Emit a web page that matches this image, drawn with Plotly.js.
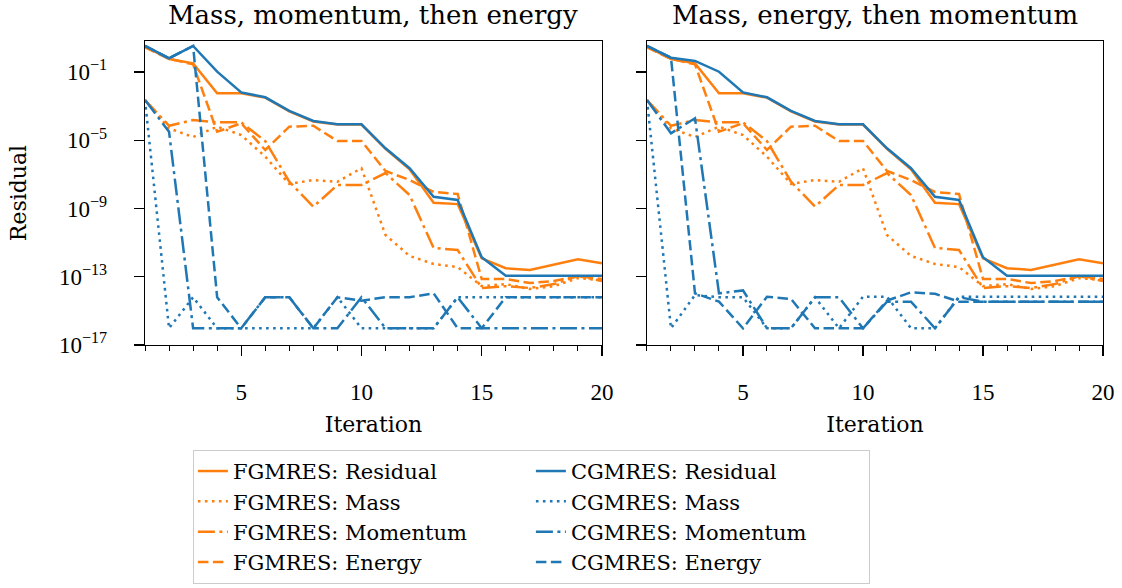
<!DOCTYPE html>
<html>
<head>
<meta charset="utf-8">
<script src="https://cdn.plot.ly/plotly-3.0.1.min.js"></script>
<style>html,body{margin:0;padding:0;background:#fff;}#chart{width:1122px;height:588px;}</style>
</head>
<body>
<div id="chart"></div>
<script>
// Iterations
const iterations = [1,2,3,4,5,6,7,8,9,10,11,12,13,14,15,16,17,18,19,20];

// log10 of residual values
// FGMRES (same in both panels)
const fgResidual = [0.5,-0.24,-0.49,-2.25,-2.25,-2.5,-3.3,-3.9,-4.08,-4.08,-5.5,-6.7,-8.66,-8.74,-11.92,-12.5,-12.6,-12.31,-11.98,-12.21];
const fgMass     = [-2.64,-4.3,-4.81,-4.2,-4.69,-5.96,-7.56,-7.33,-7.43,-6.64,-10.55,-11.78,-12.25,-12.43,-13.55,-13.43,-13.72,-13.55,-13.08,-13.2];
const fgMomentum = [-2.64,-4.15,-3.81,-3.95,-3.95,-5.05,-7.43,-8.89,-7.62,-7.62,-6.92,-8.21,-11.31,-11.43,-13.66,-13.55,-13.66,-13.43,-12.96,-13.25];
const fgEnergy   = [0.45,-0.22,-0.55,-4.5,-4.0,-5.57,-4.2,-4.15,-5.04,-5.04,-6.8,-7.33,-8.03,-8.15,-13.13,-13.13,-13.37,-13.25,-12.96,-13.13];

// CGMRES, left panel (mass, momentum, then energy)
const cgResidualA = [0.53,-0.19,0.53,-0.98,-2.19,-2.48,-3.28,-3.87,-4.06,-4.06,-5.47,-6.64,-8.31,-8.5,-11.86,-12.94,-12.94,-12.94,-12.94,-12.94];
const cgMassA     = [-2.64,-16.02,-14.2,-16.02,-16.02,-16.02,-16.02,-16.02,-14.2,-16.02,-16.02,-16.02,-16.02,-14.2,-14.2,-14.2,-14.2,-14.2,-14.2,-14.2];
const cgMomentumA = [-2.64,-4.5,-16.02,-16.02,-16.02,-14.2,-14.2,-16.02,-16.02,-14.2,-16.02,-16.02,-16.02,-14.2,-16.02,-16.02,-16.02,-16.02,-16.02,-16.02];
const cgEnergyA   = [0.53,-0.19,0.53,-14.2,-16.02,-14.2,-14.2,-16.02,-14.2,-14.4,-14.2,-14.2,-13.97,-16.02,-16.02,-14.2,-14.2,-14.2,-14.2,-14.2];

// CGMRES, right panel (mass, energy, then momentum)
const cgResidualB = [0.53,-0.16,-0.35,-0.98,-2.19,-2.48,-3.28,-3.87,-4.06,-4.06,-5.47,-6.64,-8.31,-8.5,-11.86,-12.94,-12.94,-12.94,-12.94,-12.94];
const cgMassB     = [-2.64,-16.02,-14.07,-14.2,-14.2,-16.02,-16.02,-14.2,-16.02,-14.17,-14.17,-16.02,-16.02,-14.17,-14.17,-14.17,-14.17,-14.17,-14.17,-14.17];
const cgMomentumB = [-2.64,-4.59,-3.71,-13.97,-13.8,-16.02,-16.02,-14.2,-14.2,-16.02,-14.46,-14.46,-16.02,-14.2,-14.46,-14.46,-14.46,-14.46,-14.46,-14.46];
const cgEnergyB   = [0.53,-0.16,-13.97,-14.46,-16.02,-14.17,-14.3,-16.02,-16.02,-16.02,-14.4,-13.91,-14.0,-14.46,-14.46,-14.46,-14.46,-14.46,-14.46,-14.46];

const titles = ["Mass, momentum, then energy", "Mass, energy, then momentum"];
const xTickVals = [5,10,15,20];
const yTickVals = [1e-1,1e-5,1e-9,1e-13,1e-17];
const yTickText = ["10<sup>\u22121</sup>","10<sup>\u22125</sup>","10<sup>\u22129</sup>","10<sup>\u221213</sup>","10<sup>\u221217</sup>"];

const ORANGE = '#ff7f0e', BLUE = '#1f77b4';
const DASH = {solid:'solid', dot:'2.6px,4.4px', dashdot:'17px,4.5px,3px,4.5px', dash:'10.5px,4.5px'};
const pw = v => v.map(e => Math.pow(10, e));

const traces = [];
function add(y, color, dash, name, ax, show, rank) {
  traces.push({
    x: iterations, y: pw(y), type: 'scatter', mode: 'lines',
    line: {color: color, width: 2.5, dash: DASH[dash]},
    name: name, legendgroup: name, showlegend: show, legendrank: rank,
    xaxis: ax === 1 ? 'x' : 'x2', yaxis: ax === 1 ? 'y' : 'y2',
    hoverinfo: 'skip'
  });
}
[[1, cgResidualA, cgMassA, cgMomentumA, cgEnergyA], [2, cgResidualB, cgMassB, cgMomentumB, cgEnergyB]].forEach(p => {
  const ax = p[0], show = ax === 1;
  add(fgResidual, ORANGE, 'solid', 'FGMRES: Residual', ax, show, 1);
  add(fgMass, ORANGE, 'dot', 'FGMRES: Mass', ax, show, 3);
  add(fgMomentum, ORANGE, 'dashdot', 'FGMRES: Momentum', ax, show, 5);
  add(fgEnergy, ORANGE, 'dash', 'FGMRES: Energy', ax, show, 7);
  add(p[1], BLUE, 'solid', 'CGMRES: Residual', ax, show, 2);
  add(p[2], BLUE, 'dot', 'CGMRES: Mass', ax, show, 4);
  add(p[3], BLUE, 'dashdot', 'CGMRES: Momentum', ax, show, 6);
  add(p[4], BLUE, 'dash', 'CGMRES: Energy', ax, show, 8);
});

const TEXTFONT = 'DejaVu Serif, serif';
const NUMFONT = 'Liberation Serif, DejaVu Serif, serif';
function xax(domain, anchor) {
  return {
    domain: domain, anchor: anchor, range: [1, 20], tickvals: xTickVals, automargin: false,
    ticks: 'outside', ticklen: 10, tickwidth: 1.3, tickcolor: '#000',
    minor: {dtick: 1, tick0: 0, ticks: 'outside', ticklen: 5, tickwidth: 1, tickcolor: '#000'},
    showgrid: false, zeroline: false, showline: true, linecolor: '#000', linewidth: 1.3, mirror: true,
    tickfont: {family: NUMFONT, size: 23, color: '#000'}, ticklabelstandoff: 16,
    title: {text: 'Iteration', font: {family: TEXTFONT, size: 22, color: '#000'}, standoff: 12}
  };
}
function yax(anchor, labels) {
  return {
    type: 'log', anchor: anchor, domain: [0, 1], range: [-17, 0.82], automargin: false,
    tickvals: yTickVals, ticktext: yTickText, showticklabels: labels,
    ticks: 'outside', ticklen: 10, tickwidth: 1.3, tickcolor: '#000',
    showgrid: false, zeroline: false, showline: true, linecolor: '#000', linewidth: 1.3, mirror: true,
    tickfont: {family: NUMFONT, size: 23, color: '#000'}, ticklabelstandoff: 22,
    title: labels ? {text: 'Residual', font: {family: TEXTFONT, size: 22, color: '#000'}, standoff: 26} : {text: ''}
  };
}

const layout = {
  width: 1122, height: 588,
  margin: {l: 145, r: 19, t: 41, b: 243, autoexpand: false},
  paper_bgcolor: '#fff', plot_bgcolor: '#fff',
  font: {family: TEXTFONT, color: '#000'},
  xaxis: xax([0, 0.477], 'y'),
  yaxis: yax('x', true),
  xaxis2: xax([0.524, 1], 'y2'),
  yaxis2: yax('x2', false),
  showlegend: true,
  legend: {
    orientation: 'h', x: 0.05, y: -0.345, xanchor: 'left', yanchor: 'top',
    entrywidth: 293, entrywidthmode: 'pixels',
    bordercolor: '#cccccc', borderwidth: 1, bgcolor: '#fff',
    font: {family: TEXTFONT, size: 21, color: '#000'},
    tracegroupgap: 0
  },
  annotations: [
    {text: titles[0], xref: 'paper', yref: 'paper', x: 0.2385, y: 1, yshift: 26, xanchor: 'center', yanchor: 'middle', showarrow: false, font: {family: TEXTFONT, size: 26, color: '#000'}},
    {text: titles[1], xref: 'paper', yref: 'paper', x: 0.762, y: 1, yshift: 26, xanchor: 'center', yanchor: 'middle', showarrow: false, font: {family: TEXTFONT, size: 26, color: '#000'}}
  ]
};

Plotly.newPlot('chart', traces, layout, {displayModeBar: false, staticPlot: true});
</script>
</body>
</html>
